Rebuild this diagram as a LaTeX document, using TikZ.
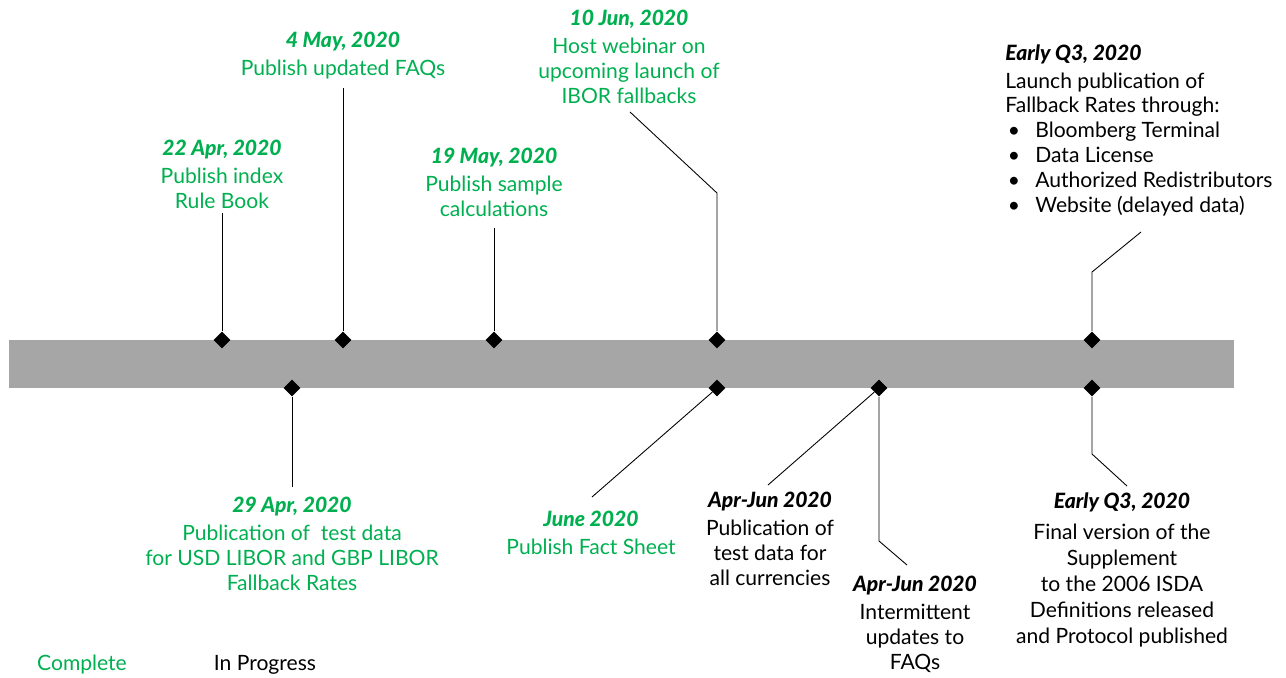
\documentclass[tikz,border=0pt]{standalone}
\usepackage{fontspec}
\setmainfont{Lato}[BoldItalicFont={Lato Black Italic}]
\usepackage{xcolor}
\usetikzlibrary{shapes.geometric,positioning}
\definecolor{tlgreen}{RGB}{0,176,80}
\definecolor{tlgray}{RGB}{166,166,166}
\newcommand{\when}[1]{{\bfseries\itshape #1}}

\begin{document}
\begin{tikzpicture}[
    x=0.02cm, y=-0.02cm,
    milestone/.style={diamond, fill=black, inner sep=0pt, minimum size=0.34cm},
    done/.style={text=tlgreen, align=center, inner sep=0pt, anchor=north, font=\fontsize{12}{14.2}\selectfont},
    pending/.style={text=black, align=center, inner sep=0pt, anchor=north, font=\fontsize{12}{14.2}\selectfont},
    leader/.style={draw=black, line width=0.5pt}
]
    \useasboundingbox (0,0) rectangle (1286,677);

    % timeline bar
    \fill[tlgray] (9,340) rectangle (1234,388);

    % milestones above the bar
    \node[milestone] (apr22) at (222,340) {};
    \node[milestone] (may4) at (343,340) {};
    \node[milestone] (may19) at (494,340) {};
    \node[milestone] (jun10) at (717,340) {};
    \node[milestone] (q3top) at (1092,340) {};
    % milestones below the bar
    \node[milestone] (apr29) at (292,388) {};
    \node[milestone] (jun) at (717,388) {};
    \node[milestone] (aprjun) at (879,388) {};
    \node[milestone] (q3bot) at (1092,388) {};

    % labels
    \node[done] (tapr22) at (222,140) {\when{22 Apr, 2020}\\[1.7pt]Publish index\\Rule Book};
    \node[done] (tmay4) at (343,32) {\when{4 May, 2020}\\[1.7pt]Publish updated FAQs};
    \node[done] (tmay19) at (494,148) {\when{19 May, 2020}\\[1.7pt]Publish sample\\calculations};
    \node[done] (tjun10) at (629,10) {\when{10 Jun, 2020}\\[1.7pt]Host webinar on\\upcoming launch of\\IBOR fallbacks};
    \node[pending, anchor=north west, align=left] (tq3top) at (1005,44)
        {\when{Early Q3, 2020}\\[1.7pt]Launch publication of\\Fallback Rates through:\\
         \hspace*{0.05cm}\makebox[0.55cm][l]{\textbullet}Bloomberg Terminal\\
         \hspace*{0.05cm}\makebox[0.55cm][l]{\textbullet}Data License\\
         \hspace*{0.05cm}\makebox[0.55cm][l]{\textbullet}Authorized Redistributors\\
         \hspace*{0.05cm}\makebox[0.55cm][l]{\textbullet}Website (delayed data)};

    \node[done] (tapr29) at (292,497) {\when{29 Apr, 2020}\\[1.7pt]Publication of\ \ test data\\for USD LIBOR and GBP LIBOR\\Fallback Rates};
    \node[done] (tjun) at (591,511) {\when{June 2020}\\[1.7pt]Publish Fact Sheet};
    \node[pending] (taprjun) at (770,492) {\when{Apr-Jun 2020}\\[1.7pt]Publication of\\test data for\\all currencies};
    \node[pending] (tfaqs) at (915,576) {\when{Apr-Jun 2020}\\[1.7pt]Intermittent\\updates to\\FAQs};
    \node[pending, font=\fontsize{12}{14.8}\selectfont] (tq3bot) at (1122,492) {\when{Early Q3, 2020}\\[3pt]Final version of the\\Supplement\\to the 2006 ISDA\\Definitions released\\and Protocol published};

    % leader lines
    \coordinate (capr22) at (222,213);
    \coordinate (cmay4) at (343,88);
    \coordinate (cmay19) at (494,228);
    \coordinate (bjun10) at (717,193);
    \coordinate (cjun10) at (630,112);
    \coordinate (bq3top) at (1092,272);
    \coordinate (cq3top) at (1141,232);
    \coordinate (capr29) at (292,487);
    \coordinate (cjun) at (592,497);
    \coordinate (caprjun) at (768,485);
    \coordinate (bfaqs) at (879,541);
    \coordinate (cfaqs) at (907,565);
    \coordinate (bq3bot) at (1092,454);
    \coordinate (cq3bot) at (1127,486);

    \draw[leader] (apr22) -- (capr22);
    \draw[leader] (may4) -- (cmay4);
    \draw[leader] (may19) -- (cmay19);
    \draw[leader] (jun10) -- (bjun10) -- (cjun10);
    \draw[leader] (q3top) -- (bq3top) -- (cq3top);
    \draw[leader] (apr29) -- (capr29);
    \draw[leader] (jun) -- (cjun);
    \draw[leader] (aprjun) -- (caprjun);
    \draw[leader] (aprjun) -- (bfaqs) -- (cfaqs);
    \draw[leader] (q3bot) -- (bq3bot) -- (cq3bot);

    % legend
    \node[text=tlgreen, font=\fontsize{12}{14.2}\selectfont] (lgdone) at (82,665) {Complete};
    \node[text=black, font=\fontsize{12}{14.2}\selectfont] (lgpending) at (265,665) {In Progress};
\end{tikzpicture}
\end{document}
